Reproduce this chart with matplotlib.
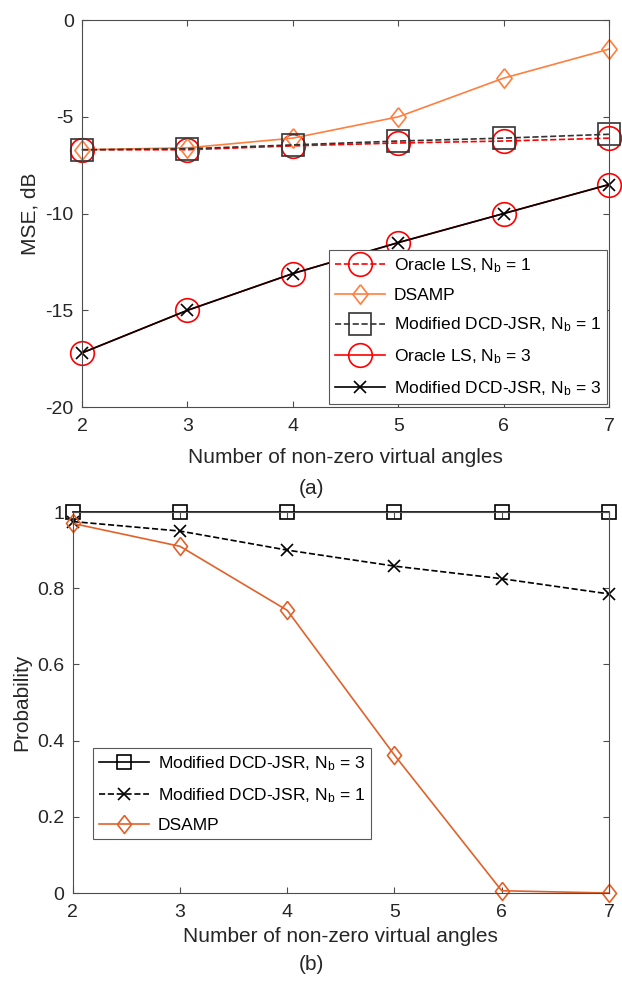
import numpy as np
import matplotlib
matplotlib.use('Agg')
import matplotlib.pyplot as plt

plt.rcParams['font.family'] = ['Liberation Sans', 'DejaVu Sans']
plt.rcParams['mathtext.fontset'] = 'custom'
plt.rcParams['mathtext.rm'] = 'Liberation Sans'
plt.rcParams['mathtext.it'] = 'Liberation Sans'
plt.rcParams['axes.unicode_minus'] = False

# x axis: number of non-zero virtual angles
angles = [2, 3, 4, 5, 6, 7]

# (a) MSE, dB
mse_oracle_nb1 = [-6.7, -6.7, -6.5, -6.35, -6.25, -6.1]
mse_dsamp = [-6.7, -6.6, -6.1, -5.0, -3.0, -1.5]
mse_dcd_nb1 = [-6.7, -6.65, -6.45, -6.25, -6.1, -5.9]
mse_oracle_nb3 = [-17.2, -15.0, -13.1, -11.5, -10.0, -8.5]
mse_dcd_nb3 = [-17.2, -15.0, -13.1, -11.5, -10.0, -8.5]

# (b) probability
prob_dcd_nb3 = [1.0, 1.0, 1.0, 1.0, 1.0, 1.0]
prob_dcd_nb1 = [0.975, 0.95, 0.90, 0.858, 0.825, 0.785]
prob_dsamp = [0.97, 0.91, 0.742, 0.362, 0.006, 0.0]

orange_a = '#FF7F3F'
orange_b = '#E2612A'
axcol = '0.3'
diamond = [(0, 1), (0.78, 0), (0, -1), (-0.78, 0), (0, 1)]

fig = plt.figure(figsize=(6.22, 9.82), dpi=100)
ax1 = fig.add_axes([0.132, 0.5855, 0.847, 0.394])
ax2 = fig.add_axes([0.117, 0.0906, 0.862, 0.388])


def style_axes(ax):
    for s in ax.spines.values():
        s.set_color(axcol)
        s.set_linewidth(0.8)
    ax.tick_params(direction='in', top=True, right=True, length=4,
                   color=axcol, labelsize=14, labelcolor='0.15')
    ax.tick_params(axis='x', pad=8)
    ax.tick_params(axis='y', pad=6)


def style_legend(leg):
    leg.get_frame().set_edgecolor('0.35')
    leg.get_frame().set_linewidth(0.8)


# (a)
ax1.plot(angles, mse_oracle_nb1, '--', color='red', lw=1.2, marker='o', ms=17,
         mfc='none', mew=1.2, label=r'Oracle LS, N$_{\rm b}$ = 1', clip_on=False)
ax1.plot(angles, mse_dsamp, '-', color=orange_a, lw=1.2, marker=diamond, ms=14,
         mfc='none', mew=1.2, label='DSAMP', clip_on=False)
ax1.plot(angles, mse_dcd_nb1, '--', color='0.2', lw=1.2, marker='s', ms=16,
         mfc='none', mew=1.2, label=r'Modified DCD-JSR, N$_{\rm b}$ = 1', clip_on=False)
ax1.plot(angles, mse_oracle_nb3, '-', color='red', lw=1.2, marker='o', ms=17,
         mfc='none', mew=1.2, label=r'Oracle LS, N$_{\rm b}$ = 3', clip_on=False)
ax1.plot(angles, mse_dcd_nb3, '-', color='black', lw=1.2, marker='x', ms=9,
         mew=1.2, label=r'Modified DCD-JSR, N$_{\rm b}$ = 3', clip_on=False)
ax1.set_xlim(2, 7)
ax1.set_ylim(-20, 0)
ax1.set_xticks(angles)
ax1.set_yticks([-20, -15, -10, -5, 0])
ax1.set_xlabel('Number of non-zero virtual angles', fontsize=15, color='0.15', labelpad=9)
ax1.set_ylabel('MSE, dB', fontsize=15, color='0.15', labelpad=4)
style_axes(ax1)
leg1 = ax1.legend(loc='lower right', bbox_to_anchor=(0.996, 0.008), fontsize=12.5,
                  handlelength=2.9, labelspacing=0.75, borderpad=0.35,
                  handletextpad=0.5, fancybox=False, framealpha=1, borderaxespad=0)
style_legend(leg1)

# (b)
ax2.plot(angles, prob_dcd_nb3, '-', color='black', lw=1.2, marker='s', ms=10,
         mfc='none', mew=1.2, label=r'Modified DCD-JSR, N$_{\rm b}$ = 3', clip_on=False)
ax2.plot(angles, prob_dcd_nb1, '--', color='black', lw=1.2, marker='x', ms=9,
         mew=1.2, label=r'Modified DCD-JSR, N$_{\rm b}$ = 1', clip_on=False)
ax2.plot(angles, prob_dsamp, '-', color=orange_b, lw=1.2, marker=diamond, ms=13,
         mfc='none', mew=1.2, label='DSAMP', clip_on=False)
ax2.set_xlim(2, 7)
ax2.set_ylim(0, 1)
ax2.set_xticks(angles)
ax2.set_yticks([0, 0.2, 0.4, 0.6, 0.8, 1])
ax2.set_yticklabels(['0', '0.2', '0.4', '0.6', '0.8', '1'])
ax2.set_xlabel('Number of non-zero virtual angles', fontsize=15, color='0.15', labelpad=4)
ax2.set_ylabel('Probability', fontsize=15, color='0.15', labelpad=4)
style_axes(ax2)
leg2 = ax2.legend(loc='lower left', bbox_to_anchor=(0.037, 0.142), fontsize=12.5,
                  handlelength=2.9, labelspacing=0.75, borderpad=0.35,
                  handletextpad=0.5, fancybox=False, framealpha=1, borderaxespad=0)
style_legend(leg2)

fig.text(0.5, 1 - 488 / 982, '(a)', ha='center', va='center', fontsize=15, color='0.15')
fig.text(0.5, 1 - 964 / 982, '(b)', ha='center', va='center', fontsize=15, color='0.15')

fig.savefig('out.png', dpi=100, facecolor='white')
